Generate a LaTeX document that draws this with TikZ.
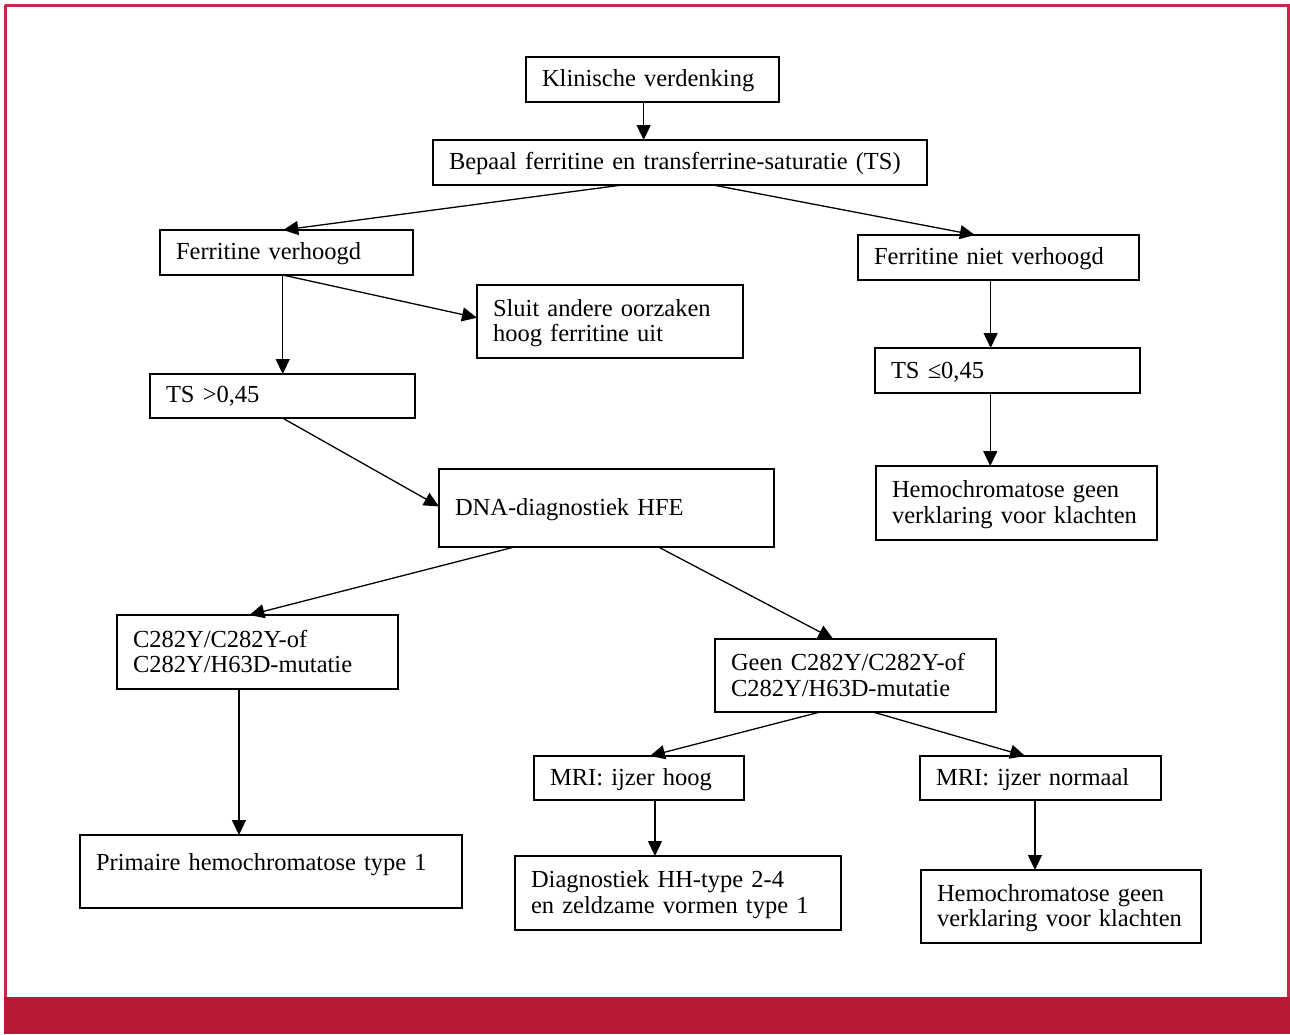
\documentclass[tikz,border=0pt]{standalone}
\usepackage{fontspec}
\setmainfont{Liberation Serif}
\usetikzlibrary{arrows.meta,calc}
\definecolor{framered}{RGB}{197,38,74}
\definecolor{barred}{RGB}{183,26,54}
\newcommand{\bxstrut}{\rule[-4pt]{0pt}{24pt}}
\tikzset{
  fbox/.style={draw, line width=1.3pt, anchor=north west, align=left,
    inner xsep=16pt, inner ysep=0pt, outer sep=0pt,
    font=\fontsize{24.5pt}{25.5pt}\selectfont,
    execute at begin node=\bxstrut, execute at end node=\bxstrut},
  arr/.style={line width=1.3pt, -{Triangle[length=15pt,width=14pt]}}
}
\begin{document}
\begin{tikzpicture}[x=1pt,y=-1pt]
\useasboundingbox (0,0) rectangle (1290,1034);
% frame
\draw[framered, line width=2.7pt] (5.3,5.3) -- (5.3,998) (5.3,5.3) -- (1288.7,5.3) -- (1288.7,998);
\fill[barred] (4,997) rectangle (1290,1034);

% boxes
\node[fbox, minimum width=253pt, minimum height=45pt, text width=221pt] (kl) at (526,57) {Klinische verdenking};
\node[fbox, minimum width=494pt, minimum height=45pt, text width=462pt] (be) at (433,140) {Bepaal ferritine en transferrine-saturatie (TS)};
\node[fbox, minimum width=253pt, minimum height=45pt, text width=221pt] (fv) at (160,230) {Ferritine verhoogd};
\node[fbox, minimum width=281pt, minimum height=45pt, text width=249pt] (fn) at (858,235) {Ferritine niet verhoogd};
\node[fbox, minimum width=266pt, minimum height=73pt, text width=234pt] (sl) at (477,285) {Sluit andere oorzaken\\hoog ferritine uit};
\node[fbox, minimum width=265pt, minimum height=44pt, text width=233pt] (ts1) at (150,374) {TS >0,45\rule[-8pt]{0pt}{0pt}};
\node[fbox, minimum width=265pt, minimum height=45pt, text width=233pt] (ts2) at (875,348) {TS ≤0,45};
\node[fbox, minimum width=281pt, minimum height=74pt, text width=249pt] (hm1) at (876,466) {Hemochromatose geen\\verklaring voor klachten};
\node[fbox, minimum width=335pt, minimum height=78pt, text width=303pt] (dna) at (439,469) {DNA-diagnostiek HFE};
\node[fbox, minimum width=281pt, minimum height=74pt, text width=249pt] (c28) at (117,615) {C282Y/C282Y-of\\C282Y/H63D-mutatie};
\node[fbox, minimum width=281pt, minimum height=73pt, text width=249pt] (geen) at (715,639) {Geen C282Y/C282Y-of\\C282Y/H63D-mutatie};
\node[fbox, minimum width=210pt, minimum height=44pt, text width=178pt] (mh) at (534,756) {MRI: ijzer hoog};
\node[fbox, minimum width=241pt, minimum height=44pt, text width=209pt] (mn) at (920,756) {MRI: ijzer normaal};
\node[fbox, minimum width=382pt, minimum height=73pt, text width=350pt] (pr) at (80,835) {Primaire hemochromatose type 1\rule[-22pt]{0pt}{0pt}};
\node[fbox, minimum width=326pt, minimum height=74pt, text width=294pt] (dg) at (515,856) {Diagnostiek HH-type 2-4\\en zeldzame vormen type 1};
\node[fbox, minimum width=280pt, minimum height=73pt, text width=248pt] (hm2) at (921,870) {Hemochromatose geen\\verklaring voor klachten};

% connectors
\draw[arr] ($(kl.south west)!0.465!(kl.south east)$) coordinate (c1) -- (c1 |- be.north);
\draw[arr] ($(be.south west)!0.383!(be.south east)$) -- ($(fv.north west)!0.487!(fv.north east)$);
\draw[arr] ($(be.south west)!0.567!(be.south east)$) -- ($(fn.north west)!0.416!(fn.north east)$);
\draw[arr] ($(fv.south west)!0.485!(fv.south east)$) coordinate (c2) -- (c2 |- ts1.north);
\draw[arr] (c2) -- ($(sl.north west)!0.448!(sl.south west)$);
\draw[arr] ($(ts1.south west)!0.5!(ts1.south east)$) -- ($(dna.north west)!0.48!(dna.south west)$);
\draw[arr] ($(dna.south west)!0.225!(dna.south east)$) -- ($(c28.north west)!0.471!(c28.north east)$);
\draw[arr] ($(dna.south west)!0.655!(dna.south east)$) -- ($(geen.north west)!0.421!(geen.north east)$);
\draw[arr] ($(fn.south west)!0.472!(fn.south east)$) coordinate (c3) -- (c3 |- ts2.north);
\draw[arr] ($(ts2.south west)!0.435!(ts2.south east)$) coordinate (c4) -- (c4 |- hm1.north);
\draw[arr] ($(c28.south west)!0.434!(c28.south east)$) coordinate (c5) -- (c5 |- pr.north);
\draw[arr] ($(geen.south west)!0.374!(geen.south east)$) -- ($(mh.north west)!0.552!(mh.north east)$);
\draw[arr] ($(geen.south west)!0.562!(geen.south east)$) -- ($(mn.north west)!0.436!(mn.north east)$);
\draw[arr] ($(mh.south west)!0.576!(mh.south east)$) coordinate (c6) -- (c6 |- dg.north);
\draw[arr] ($(mn.south west)!0.477!(mn.south east)$) coordinate (c7) -- (c7 |- hm2.north);
\end{tikzpicture}
\end{document}
